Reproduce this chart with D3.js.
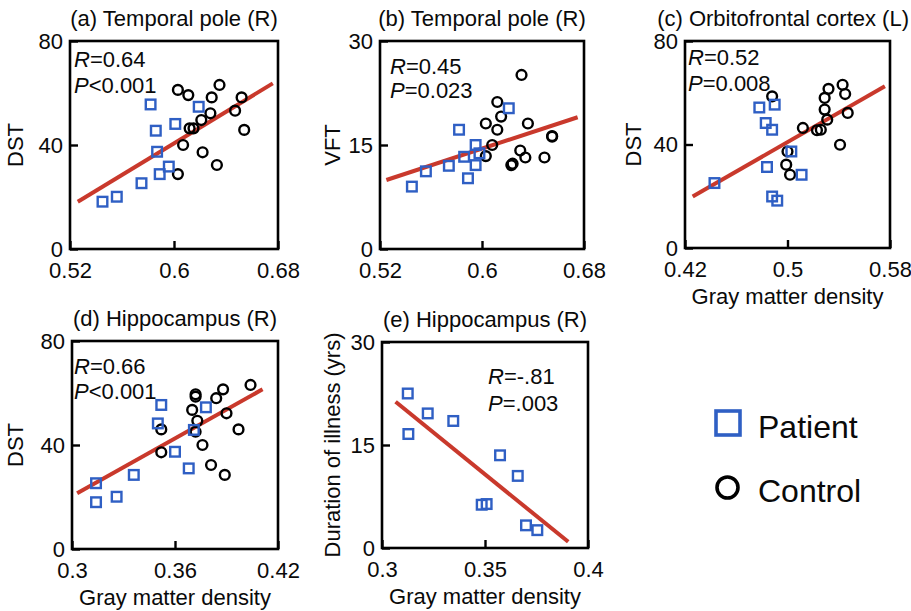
<!DOCTYPE html>
<html><head><meta charset="utf-8">
<script src="https://cdn.jsdelivr.net/npm/d3@7"></script>
<style>
html,body{margin:0;padding:0;background:#fff;}
svg{display:block;font-family:"Liberation Sans",Arial,sans-serif;}
</style></head>
<body>
<svg id="chart" width="911" height="611"></svg>
<script>
// ---------- DATA ----------
const titles = ["(a) Temporal pole (R)", "(b) Temporal pole (R)", "(c) Orbitofrontal cortex (L)", "(d) Hippocampus (R)", "(e) Hippocampus (R)"];
const yLabels = ["DST", "VFT", "DST", "DST", "Duration of illness (yrs)"];
const xLabels = ["", "", "Gray matter density", "Gray matter density", "Gray matter density"];
const rTexts = ["=0.64", "=0.45", "=0.52", "=0.66", "=-.81"];
const pTexts = ["<0.001", "=0.023", "=0.008", "<0.001", "=.003"];

const aXTicks = [0.52, 0.6, 0.68], aXTickLabels = ["0.52", "0.6", "0.68"];
const cXTicks = [0.42, 0.5, 0.58], cXTickLabels = ["0.42", "0.5", "0.58"];
const dXTicks = [0.3, 0.36, 0.42], dXTickLabels = ["0.3", "0.36", "0.42"];
const eXTicks = [0.3, 0.35, 0.4], eXTickLabels = ["0.3", "0.35", "0.4"];
const dstTicks = [0, 40, 80], dstTickLabels = ["0", "40", "80"];
const vftTicks = [0, 15, 30], vftTickLabels = ["0", "15", "30"];

const aPatients = [[0.545,18.2],[0.556,20.1],[0.575,25.3],[0.582,55.6],[0.586,45.5],[0.587,37.4],[0.589,28.8],[0.596,31.7],[0.601,48.1],[0.619,54.7]];
const aControls = [[0.603,61.2],[0.611,59.2],[0.603,28.8],[0.607,40.0],[0.612,46.4],[0.615,46.4],[0.621,49.6],[0.628,52.2],[0.629,58.3],[0.635,63.1],[0.622,37.2],[0.633,32.3],[0.647,53.2],[0.652,58.3],[0.654,45.8]];
const aFit = [[0.526,18.2],[0.676,63.7]];

const bPatients = [[0.545,9.0],[0.556,11.2],[0.574,12.0],[0.582,17.2],[0.586,13.3],[0.589,10.2],[0.595,12.1],[0.595,15.0],[0.598,13.8],[0.621,20.3]];
const bControls = [[0.603,13.4],[0.603,18.1],[0.608,15.0],[0.612,17.2],[0.615,19.1],[0.612,21.2],[0.624,12.3],[0.623,12.1],[0.630,14.2],[0.634,13.2],[0.631,25.1],[0.636,18.1],[0.649,13.2],[0.655,16.2],[0.655,16.3]];
const bFit = [[0.525,9.95],[0.675,19.0]];

const cPatients = [[0.443,25.1],[0.478,54.3],[0.490,55.4],[0.483,48.3],[0.488,45.7],[0.484,31.3],[0.488,19.9],[0.492,18.3],[0.503,37.3],[0.511,28.3]];
const cControls = [[0.488,58.6],[0.500,37.3],[0.499,32.2],[0.502,28.3],[0.512,46.4],[0.523,45.5],[0.526,45.7],[0.531,49.6],[0.529,53.5],[0.529,58.0],[0.532,61.5],[0.543,63.1],[0.545,59.5],[0.547,52.2],[0.541,39.9]];
const cFit = [[0.426,19.9],[0.576,62.5]];

const dPatients = [[0.314,25.3],[0.314,18.0],[0.326,20.1],[0.336,28.5],[0.350,48.3],[0.352,55.4],[0.360,37.4],[0.368,31.0],[0.371,45.8],[0.378,54.5]];
const dControls = [[0.352,46.0],[0.352,37.2],[0.370,53.5],[0.372,58.6],[0.372,59.5],[0.373,49.3],[0.372,45.1],[0.376,40.0],[0.381,32.3],[0.384,58.0],[0.388,61.4],[0.390,52.2],[0.389,28.5],[0.397,46.0],[0.404,63.1]];
const dFit = [[0.303,21.4],[0.411,61.4]];

const ePatients = [[0.3125,22.5],[0.3128,16.6],[0.3222,19.6],[0.3346,18.5],[0.3484,6.3],[0.3508,6.4],[0.3573,13.5],[0.3659,10.5],[0.3699,3.3],[0.3754,2.6]];
const eControls = [];
const eFit = [[0.3066,21.3],[0.3904,0.9]];

const legendLabels = ["Patient", "Control"];

// ---------- STYLE / LAYOUT ----------
const BLUE = "#2f5fc4", RED = "#c9392c", BLACK = "#000", TEXT = "#0a0a0a";
const FONT = 22;
const layout = [
  {x0:70,  x1:278, y0:41,  y1:249, rp:[4,26,52],   ylx:15},
  {x0:380, x1:584, y0:41,  y1:249, rp:[10,33,57],  ylx:332},
  {x0:685, x1:890, y0:41,  y1:248, rp:[3,24,50],   ylx:633},
  {x0:72,  x1:278, y0:341, y1:549, rp:[2,33,58],   ylx:15},
  {x0:382, x1:588, y0:342, y1:548, rp:[106,42,69], ylx:332}
];

const panels = [
  {xt:aXTicks, xl:aXTickLabels, yt:dstTicks, yl:dstTickLabels, pat:aPatients, con:aControls, fit:aFit},
  {xt:aXTicks, xl:aXTickLabels, yt:vftTicks, yl:vftTickLabels, pat:bPatients, con:bControls, fit:bFit},
  {xt:cXTicks, xl:cXTickLabels, yt:dstTicks, yl:dstTickLabels, pat:cPatients, con:cControls, fit:cFit},
  {xt:dXTicks, xl:dXTickLabels, yt:dstTicks, yl:dstTickLabels, pat:dPatients, con:dControls, fit:dFit},
  {xt:eXTicks, xl:eXTickLabels, yt:vftTicks, yl:vftTickLabels, pat:ePatients, con:eControls, fit:eFit}
];

const svg = d3.select("#chart");

panels.forEach((p, i) => {
  const L = layout[i];
  const x = d3.scaleLinear().domain([p.xt[0], p.xt[p.xt.length-1]]).range([L.x0, L.x1]);
  const y = d3.scaleLinear().domain([p.yt[0], p.yt[p.yt.length-1]]).range([L.y1, L.y0]);
  const g = svg.append("g");

  // axes
  const xa = g.append("g").attr("transform", `translate(0,${L.y1})`)
    .call(d3.axisBottom(x).tickValues(p.xt).tickFormat((d,k)=>p.xl[k]).tickSize(-8).tickPadding(13));
  const ya = g.append("g").attr("transform", `translate(${L.x0},0)`)
    .call(d3.axisLeft(y).tickValues(p.yt).tickFormat((d,k)=>p.yl[k]).tickSize(-8).tickPadding(7));
  [xa, ya].forEach(a => {
    a.select(".domain").remove();
    a.selectAll("line").attr("stroke", BLACK).attr("stroke-width", 2.4);
    a.selectAll("text").attr("font-size", FONT).attr("font-family", '"Liberation Sans",Arial,sans-serif').attr("fill", TEXT);
  });

  // frame
  g.append("rect").attr("x", L.x0).attr("y", L.y0).attr("width", L.x1-L.x0).attr("height", L.y1-L.y0)
    .attr("fill", "none").attr("stroke", BLACK).attr("stroke-width", 2.6);

  // fit line
  g.append("line").attr("x1", x(p.fit[0][0])).attr("y1", y(p.fit[0][1]))
    .attr("x2", x(p.fit[1][0])).attr("y2", y(p.fit[1][1]))
    .attr("stroke", RED).attr("stroke-width", 4).attr("stroke-linecap", "butt");

  // controls
  g.selectAll("circle.c").data(p.con).join("circle").attr("class","c")
    .attr("cx", d=>x(d[0])).attr("cy", d=>y(d[1])).attr("r", 4.9)
    .attr("fill", "none").attr("stroke", BLACK).attr("stroke-width", 2.4);
  // patients
  const s = 9.6;
  g.selectAll("rect.p").data(p.pat).join("rect").attr("class","p")
    .attr("x", d=>x(d[0])-s/2).attr("y", d=>y(d[1])-s/2).attr("width", s).attr("height", s)
    .attr("fill", "none").attr("stroke", BLUE).attr("stroke-width", 2.4);

  // title
  const t = g.append("text").attr("y", L.y0-15).attr("font-size", FONT).attr("fill", TEXT)
    .attr("text-anchor", "middle").text(titles[i]);
  const tw = t.node().getComputedTextLength();
  t.attr("x", Math.min((L.x0+L.x1)/2, 909 - tw/2));

  // R / P
  const rt = g.append("text").attr("x", L.x0+L.rp[0]).attr("y", L.y0+L.rp[1]).attr("font-size", FONT).attr("fill", TEXT);
  rt.append("tspan").attr("font-style", "italic").text("R");
  rt.append("tspan").text(rTexts[i]);
  const pt = g.append("text").attr("x", L.x0+L.rp[0]).attr("y", L.y0+L.rp[2]).attr("font-size", FONT).attr("fill", TEXT);
  pt.append("tspan").attr("font-style", "italic").text("P");
  pt.append("tspan").text(pTexts[i]);

  // y label
  g.append("text").attr("transform", `translate(${L.ylx},${(L.y0+L.y1)/2}) rotate(-90)`)
    .attr("text-anchor", "middle").attr("dy", "0.35em").attr("font-size", FONT).attr("fill", TEXT).text(yLabels[i]);
  // x label
  if (xLabels[i]) {
    g.append("text").attr("x", (L.x0+L.x1)/2).attr("y", L.y1+56).attr("text-anchor", "middle")
      .attr("font-size", FONT).attr("fill", TEXT).text(xLabels[i]);
  }
});

// legend
const lg = svg.append("g");
lg.append("rect").attr("x", 716).attr("y", 411).attr("width", 24).attr("height", 24)
  .attr("fill", "none").attr("stroke", BLUE).attr("stroke-width", 3.6);
lg.append("text").attr("x", 758).attr("y", 438).attr("font-size", 32).attr("fill", TEXT).text(legendLabels[0]);
lg.append("circle").attr("cx", 727.5).attr("cy", 487.5).attr("r", 10.5)
  .attr("fill", "none").attr("stroke", BLACK).attr("stroke-width", 3.6);
lg.append("text").attr("x", 758).attr("y", 502).attr("font-size", 32).attr("fill", TEXT).text(legendLabels[1]);
</script>
</body></html>
